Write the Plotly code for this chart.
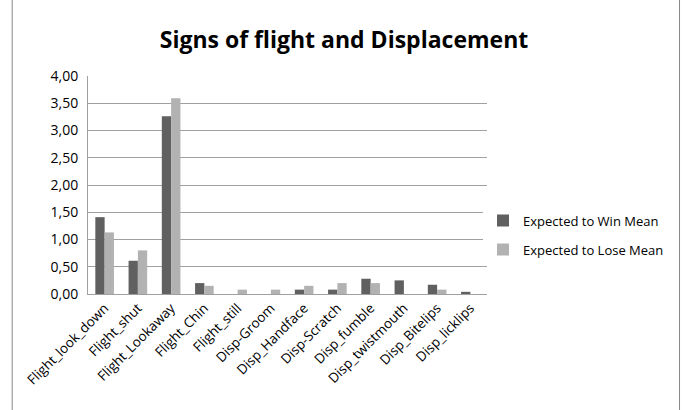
import plotly.graph_objects as go

categories = ["Flight_look_down", "Flight_shut", "Flight_Lookaway", "Flight_Chin", "Flight_still",
              "Disp-Groom", "Disp_Handface", "Disp-Scratch", "Disp_fumble", "Disp_twistmouth",
              "Disp_Bitelips", "Disp_licklips"]
win_mean = [1.41, 0.61, 3.26, 0.20, 0.0, 0.0, 0.08, 0.08, 0.28, 0.25, 0.17, 0.04]
lose_mean = [1.13, 0.80, 3.59, 0.15, 0.08, 0.08, 0.15, 0.20, 0.20, 0.0, 0.08, 0.0]
tick_vals = [0, 0.5, 1, 1.5, 2, 2.5, 3, 3.5, 4]
tick_text = ["0,00", "0,50", "1,00", "1,50", "2,00", "2,50", "3,00", "3,50", "4,00"]

FONT = "Open Sans"

fig = go.Figure()
fig.add_trace(go.Bar(x=categories, y=win_mean, name="Expected to Win Mean", legendgroup="w",
                     marker=dict(color="#606060", line=dict(width=0))))
fig.add_trace(go.Bar(x=categories, y=lose_mean, name="Expected to Lose Mean", legendgroup="l",
                     marker=dict(color="#b2b2b2", line=dict(width=0))))

fig.update_layout(
    width=688, height=410,
    margin=dict(l=88, r=201, t=76, b=116),
    paper_bgcolor="white", plot_bgcolor="white",
    barmode="group", bargap=0.44, bargroupgap=0,
    title=dict(text="<b>Signs of flight and Displacement</b>", x=0.5, xanchor="center",
               y=1 - 40 / 410, yanchor="middle",
               font=dict(family=FONT, size=23, color="black")),
    font=dict(family=FONT, size=13, color="black"),
    legend=dict(x=0.99, xanchor="left", y=0.27, yanchor="middle",
                font=dict(family=FONT, size=13, color="black"),
                tracegroupgap=9, itemwidth=30, traceorder="grouped"),
    xaxis=dict(tickangle=-45, showgrid=False, showline=True, linecolor="#a0a0a0",
               linewidth=1, ticks="", tickfont=dict(family=FONT, size=13.5)),
    yaxis=dict(range=[0, 4], tickvals=tick_vals, ticktext=tick_text, showgrid=True,
               gridcolor="#a0a0a0", gridwidth=1, showline=True, linecolor="#a0a0a0",
               zeroline=False, ticks="", ticklabelstandoff=6, tickfont=dict(family=FONT, size=14)),
    showlegend=True,
)

fig.add_shape(type="line", xref="paper", yref="paper", x0=-0.19, x1=-0.19, y0=-0.6, y1=1.4,
              line=dict(color="#888888", width=1))
fig.add_shape(type="line", xref="paper", yref="paper", x0=1.4825, x1=1.4825, y0=-0.6, y1=1.4,
              line=dict(color="#888888", width=1))

fig.write_html("out.html")
